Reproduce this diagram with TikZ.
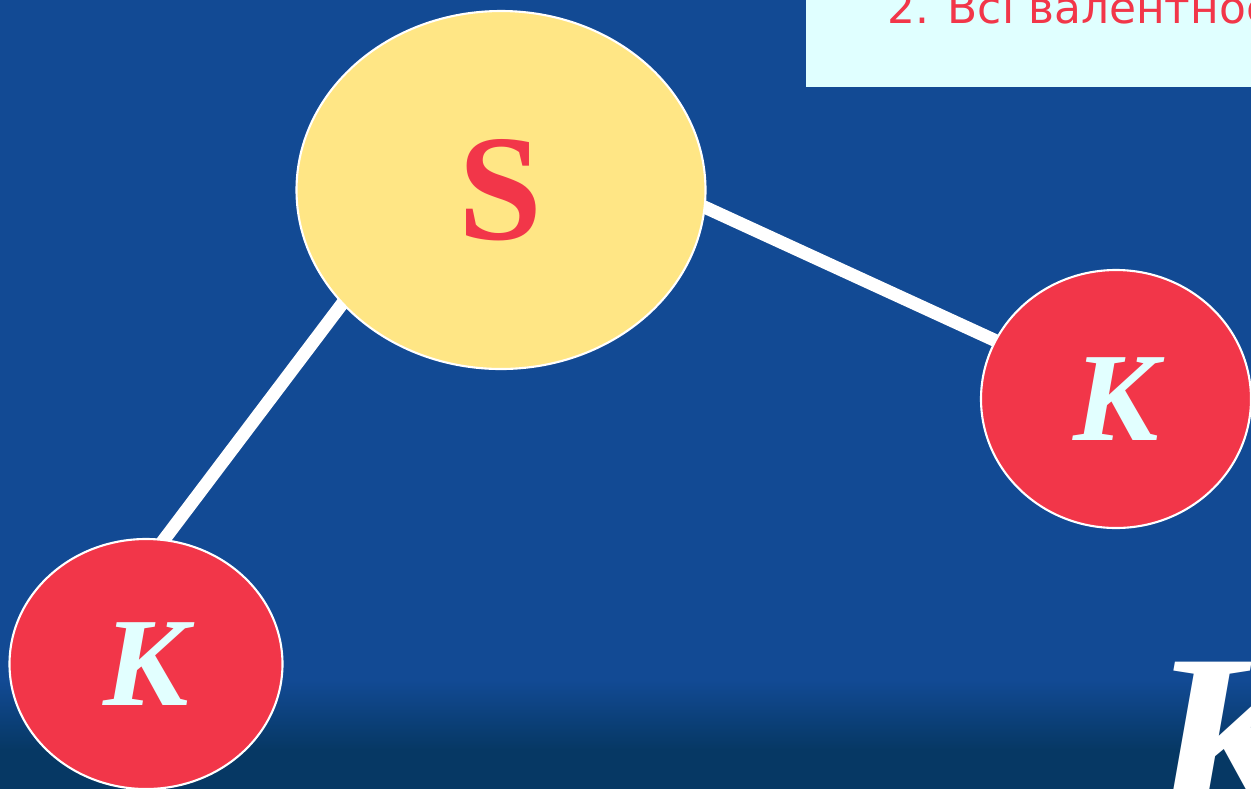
\documentclass[tikz,border=0pt]{standalone}
\usepackage{fontspec}
\newfontfamily\atomfont{Liberation Serif}
\newfontfamily\labelsans{DejaVu Sans}
\usetikzlibrary{shapes.geometric}
\definecolor{bgblue}{RGB}{18,74,148}
\definecolor{bgdark}{RGB}{6,56,100}
\definecolor{boxcyan}{RGB}{224,255,255}
\definecolor{atomred}{RGB}{242,54,73}
\definecolor{atomyellow}{RGB}{255,230,133}
\definecolor{lettercyan}{RGB}{226,255,255}
\tikzset{
  atomS/.style={ellipse, draw=white, line width=1.2pt, fill=atomyellow,
    minimum width=409*0.02cm, minimum height=358*0.02cm, inner sep=0pt,
    text=atomred, font=\atomfont\bfseries\fontsize{86}{86}\selectfont},
  atomK/.style={ellipse, draw=white, line width=1.2pt, fill=atomred,
    minimum width=270*0.02cm, minimum height=258*0.02cm, inner sep=0pt,
    text=lettercyan, font=\atomfont\bfseries\itshape\fontsize{72}{72}\selectfont},
  bond/.style={white, line width=13*0.02cm}
}
\begin{document}
\begin{tikzpicture}[x=0.02cm,y=-0.02cm]
\useasboundingbox (0,0) rectangle (1251,789);
\clip (0,0) rectangle (1251,789);
% background
\fill[bgblue] (0,0) rectangle (1251,690);
\shade[top color=bgblue, bottom color=bgdark] (0,680) rectangle (1251,750);
\fill[bgdark] (0,749) rectangle (1251,789);
% info box
\fill[boxcyan] (806,-5) rectangle (1260,87);
\node[anchor=base west, inner sep=0pt, text=atomred,
  font=\labelsans\fontsize{25}{25}\selectfont] (info) at (887,23) {2. Всі валентності};
% nodes
\coordinate (bl1) at (345,300);
\coordinate (bl2) at (160,545);
\coordinate (br1) at (700,205);
\coordinate (br2) at (1005,345);
\draw[bond] (bl1) -- (bl2);
\draw[bond] (br1) -- (br2);
\node[atomS] (S) at (501,190) {S};
\node[atomK] (K1) at (1116,399) {К};
\node[atomK, minimum width=273*0.02cm, minimum height=250*0.02cm] (K2) at (146,664) {К};
% big letter
\node[anchor=base west, inner sep=0pt, text=white,
  font=\atomfont\bfseries\itshape\fontsize{142}{142}\selectfont] (bigK) at (1148,825) {К};
\end{tikzpicture}
\end{document}
